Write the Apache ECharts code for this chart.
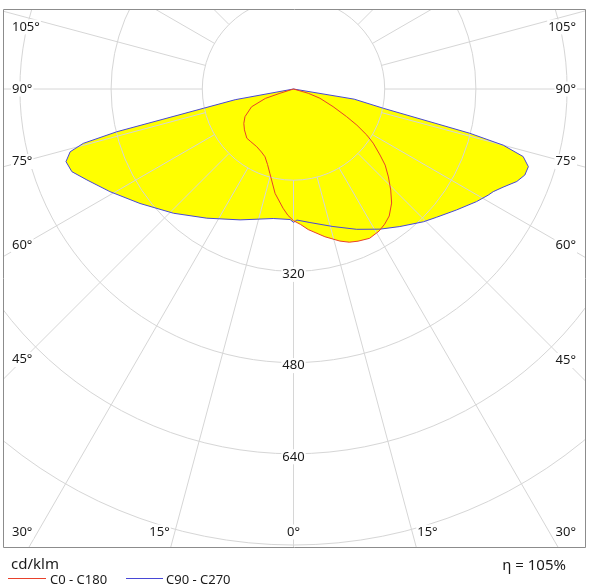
<!DOCTYPE html>
<html><head><meta charset="utf-8">
<script src="https://cdn.jsdelivr.net/npm/echarts@6/dist/echarts.min.js"></script>
<style>html,body{margin:0;padding:0;background:#fff}#c{width:589px;height:587px}</style>
</head><body><div id="c"></div>
<script>
// ---- data (angle from nadir in degrees; negative = left half) ----
const c0Angles = [-90,-72.5,-71.5,-67,-60.3,-55.3,-50.2,-43.5,-39,-32.5,-27,-22.8,-19,-15.6,-10,-5,-2.5,0,3,6,12,17,20,23,27,31,34,37,40.7,43.9,47.2,50.3,52.65,55.8,57.85,60.3,62.5,66,70.7,73.8,90];
const c0Values = [0,25,52,80,98,106,112,119,119,120,124,129,140,154,186,210,222,231,238,248,265,279,286,290,294,291,286,279,264,246,227,209,191,169,152,128,105,76,49,27,0];
const c90Angles = [-90,-79.6,-77.9,-76.4,-75.5,-74.3,-72.3,-69.55,-66.25,-60.8,-53.3,-44,-33.9,-22.2,-8.9,-1.5,0,1.5,7,16,24.25,31.7,37.7,44.4,48.1,53.4,58.4,61.4,62.8,64.9,67.5,69.6,71.7,73.6,75,75.9,77.9,80.5,90];
const c90Values = [0,104,162,319,381,407,419,415,396,369,336,303,273,248,230,229,234,230,236,251,270,289,305,326,337,356,377,389,394,406,424,433,434,420,381,319,161,108,0];
const ringValues = [160,320,480,640,800,960];
const ringLabels = [320,480,640];
const spokeAngles = [-165,-150,-135,-120,-105,-90,-75,-60,-45,-30,-15,0,15,30,45,60,75,90,105,120,135,150,165,180];
const angleLabels = [-105,-90,-75,-60,-45,-30,-15,0,15,30,45,60,75,90,105];
const seriesNames = ['C0 - C180','C90 - C270'];
const unitText = 'cd/klm';
const etaText = 'η = 105%';

// ---- styles ----
const RED = '#e8412b', BLUE = '#4848d6', FILL = '#ffff00', GRID = '#d6d6d6';
const FONT = '"Noto Sans", "DejaVu Sans", sans-serif';
const BOX = {l:3, t:9, r:585, b:547};

const chart = echarts.init(document.getElementById('c'), null, {renderer:'canvas'});

function pts(api, angles, values){ return angles.map((a,i)=>api.coord([values[i], a])); }

function fillSeries(angles, values){
  return {type:'custom', coordinateSystem:'polar', z:1, silent:true, data:[[0,0]],
    renderItem:(p, api)=>({type:'polygon', shape:{points:pts(api, angles, values)},
      style:{fill:FILL, stroke:'none'}})};
}
function lineSeries(name, angles, values, color){
  return {name, type:'custom', coordinateSystem:'polar', z:5, silent:true, data:[[0,0]],
    renderItem:(p, api)=>({type:'polyline', shape:{points:pts(api, angles, values)},
      style:{fill:'none', stroke:color, lineWidth:1, lineJoin:'round'}})};
}

function angleLabel(params, api){
  const a = api.value(1);
  const C = api.coord([0,0]), P = api.coord([960,a]);
  let dx = P[0]-C[0], dy = P[1]-C[1]; const L = Math.hypot(dx,dy); dx/=L; dy/=L;
  const tx = Math.abs(dx)<1e-6 ? Infinity : ((dx>0?BOX.r:BOX.l)-C[0])/dx;
  const tyB = dy>1e-6 ? (BOX.b-C[1])/dy : Infinity;
  const tyT = dy<-1e-6 ? (BOX.t-C[1])/dy : Infinity;
  if (tyT < Math.min(tx,tyB)) return {type:'group', children:[]};
  let x, y, align;
  if (tyB <= tx){
    y = BOX.b - 15; x = C[0] + dx*tyB;
    if (Math.abs(dx)<1e-6) align='center';
    else if (dx>0){ if (x > BOX.r-40){align='right'; x=BOX.r-8;} else align='left'; }
    else { if (x < BOX.l+40){align='left'; x=BOX.l+8;} else align='right'; }
  } else {
    const xc = dx>0 ? BOX.r-20 : BOX.l+20;
    y = C[1] + dy*((xc-C[0])/dx);
    y = Math.max(BOX.t+18, Math.min(BOX.b-15, y));
    if (dx>0){align='right'; x=BOX.r-8;} else {align='left'; x=BOX.l+8;}
  }
  return {type:'text', x, y, z2:10, style:{text:Math.abs(a)+'°', font:'13px '+FONT, fill:'#1a1a1a',
    align, verticalAlign:'middle', backgroundColor:'#fff', padding:[1,1]}};
}

const option = {
  animation:false,
  backgroundColor:'#fff',
  polar:{center:[293.5,89], radius:547.2},
  radiusAxis:{type:'value', min:0, max:960, show:false},
  angleAxis:{type:'value', min:-180, max:180, startAngle:90, clockwise:false, show:false},
  series:[
    fillSeries(c90Angles, c90Values),
    fillSeries(c0Angles, c0Values),
    {type:'custom', coordinateSystem:'polar', z:3, silent:true, data:ringValues.map(v=>[v,0]),
      renderItem:(p, api)=>{ const c=api.coord([0,0]), q=api.coord([api.value(0),0]);
        return {type:'circle', shape:{cx:c[0], cy:c[1], r:Math.hypot(q[0]-c[0], q[1]-c[1])},
          style:{fill:'none', stroke:GRID, lineWidth:1}}; }},
    {type:'custom', coordinateSystem:'polar', z:3, silent:true, data:spokeAngles.map(a=>[160,a]),
      renderItem:(p, api)=>{ const a=api.value(1), p1=api.coord([ringValues[0],a]), p2=api.coord([ringValues[ringValues.length-1],a]);
        return {type:'line', shape:{x1:p1[0], y1:p1[1], x2:p2[0], y2:p2[1]}, style:{stroke:GRID, lineWidth:1}}; }},
    lineSeries(seriesNames[1], c90Angles, c90Values, BLUE),
    lineSeries(seriesNames[0], c0Angles, c0Values, RED),
    {type:'custom', coordinateSystem:'polar', z:6, silent:true, data:ringLabels.map(v=>[v,0]),
      renderItem:(p, api)=>{ const q=api.coord([api.value(0),0]);
        return {type:'text', x:q[0], y:q[1]+3, style:{text:String(api.value(0)), font:'13px '+FONT, fill:'#1a1a1a',
          align:'center', verticalAlign:'middle', backgroundColor:'#fff', padding:[1,1]}}; }},
    {type:'custom', coordinateSystem:'polar', z:6, silent:true, data:angleLabels.map(a=>[0,a]), renderItem:angleLabel}
  ],
  graphic:[
    {type:'rect', z:100, shape:{x:0,y:0,width:589,height:BOX.t}, style:{fill:'#fff'}},
    {type:'rect', z:100, shape:{x:0,y:0,width:BOX.l,height:587}, style:{fill:'#fff'}},
    {type:'rect', z:100, shape:{x:BOX.r+0.5,y:0,width:10,height:587}, style:{fill:'#fff'}},
    {type:'rect', z:100, shape:{x:0,y:BOX.b+0.5,width:589,height:50}, style:{fill:'#fff'}},
    {type:'rect', z:101, shape:{x:BOX.l+0.5,y:BOX.t+0.5,width:BOX.r-BOX.l,height:BOX.b-BOX.t}, style:{fill:'none', stroke:'#8c8c8c', lineWidth:1}},
    {type:'text', z:101, x:11, y:565, style:{text:unitText, font:'15px '+FONT, fill:'#1a1a1a', verticalAlign:'middle'}},
    {type:'text', z:101, x:566, y:566, style:{text:etaText, font:'15px '+FONT, fill:'#1a1a1a', align:'right', verticalAlign:'middle'}},
    {type:'line', z:101, shape:{x1:8,y1:578.5,x2:46,y2:578.5}, style:{stroke:RED, lineWidth:1}},
    {type:'text', z:101, x:50, y:580, style:{text:seriesNames[0], font:'13px '+FONT, fill:'#1a1a1a', verticalAlign:'middle'}},
    {type:'line', z:101, shape:{x1:126,y1:578.5,x2:163,y2:578.5}, style:{stroke:BLUE, lineWidth:1}},
    {type:'text', z:101, x:166, y:580, style:{text:seriesNames[1], font:'13px '+FONT, fill:'#1a1a1a', verticalAlign:'middle'}}
  ]
};
chart.setOption(option);
</script></body></html>
